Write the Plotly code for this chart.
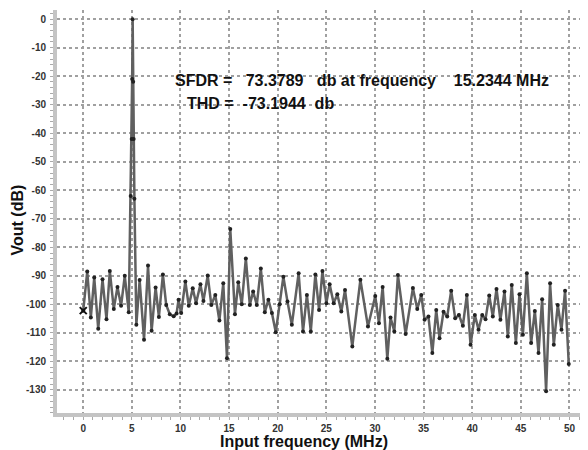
import plotly.graph_objects as go

freq_mhz = [0.0, 0.41, 0.78, 1.13, 1.54, 1.98, 2.39, 2.73, 3.14, 3.52, 3.89, 4.27, 4.68,
            4.88, 4.98, 5.03, 5.08, 5.13, 5.18, 5.26, 5.46,
            5.8, 6.25, 6.66, 7.03, 7.44, 7.78, 8.19, 8.53, 8.9, 9.3, 9.6, 9.8, 10.07,
            10.5, 10.85, 11.26, 11.6, 12.05, 12.36, 12.8, 13.17, 13.58, 14.0, 14.4, 14.78,
            15.12, 15.6, 15.94, 16.3, 16.72, 17.13, 17.47, 17.85, 18.26, 18.67, 19.04,
            19.4, 19.8, 20.2, 20.58, 21.0, 21.45, 22.15, 22.6, 23.0, 23.4, 23.87, 24.25,
            24.6, 25.0, 25.34, 25.75, 26.13, 26.54, 26.92, 27.67, 28.5, 29.28, 30.03,
            30.41, 30.79, 31.27, 31.6, 31.99, 32.36, 33.15, 33.9, 34.35, 34.76, 35.1,
            35.5, 35.9, 36.3, 36.64, 37.05, 37.43, 37.84, 38.25, 38.63, 39.04, 39.45,
            39.83, 40.27, 40.65, 41.03, 41.37, 41.75, 42.12, 42.5, 42.9, 43.32, 43.66,
            44.07, 44.49, 44.86, 45.21, 45.62, 46.06, 46.44, 46.82, 47.19, 47.6, 48.01,
            48.39, 48.8, 49.18, 49.55, 49.93]
vout_db = [-102.2, -88.5, -104.6, -90.6, -108.6, -91.2, -105.2, -88.3, -101.6, -93.9, -100.5, -90.0, -102.8,
           -62.0, -42.0, -21.0, 0.0, -22.0, -42.0, -63.0, -107.2,
           -91.5, -112.4, -86.4, -109.3, -94.1, -104.4, -89.5, -100.2, -103.5, -104.2, -103.2, -98.4, -103.0,
           -92.0, -100.5, -94.4, -99.6, -93.0, -98.8, -89.9, -100.2, -96.7, -105.7, -92.6, -118.9,
           -73.6, -103.5, -92.3, -100.0, -83.9, -100.2, -95.5, -100.2, -87.4, -102.8, -98.4,
           -103.0, -109.8, -100.0, -90.3, -99.0, -107.2, -89.1, -109.5, -96.7, -109.5, -89.5, -102.0,
           -88.3, -99.6, -93.0, -99.6, -96.5, -102.5, -95.0, -114.8, -91.4, -107.8, -97.1,
           -106.6, -93.9, -119.1, -104.6, -109.5, -89.7, -110.4, -94.3, -101.6, -96.7, -105.4,
           -104.3, -117.1, -102.0, -111.9, -102.6, -104.3, -95.2, -104.9, -103.7, -107.5, -96.7,
           -114.2, -103.7, -108.9, -103.7, -105.2, -96.9, -104.3, -94.6, -105.4, -95.5, -111.3,
           -93.2, -113.6, -96.5, -110.7, -89.1, -113.6, -102.3, -117.1, -98.2, -130.5, -92.6,
           -114.2, -100.2, -108.9, -95.2, -120.9]

x_ticks = [0, 5, 10, 15, 20, 25, 30, 35, 40, 45, 50]
y_ticks = [0, -10, -20, -30, -40, -50, -60, -70, -80, -90, -100, -110, -120, -130]

NB = "\u00a0"
sfdr_text = "SFDR =" + NB * 3 + "73.3789" + NB * 3 + "db at frequency" + NB * 4 + "15.2344 MHz"
thd_text = "THD =" + NB * 2 + "-73.1944" + NB * 2 + "db"

FONT = "Arial, 'Liberation Sans', sans-serif"

fig = go.Figure()
fig.add_trace(go.Scatter(
    x=freq_mhz, y=vout_db, mode="lines+markers",
    line=dict(color="#606060", width=2.5),
    marker=dict(color="#222", size=4),
    showlegend=False, hoverinfo="x+y"))
fig.add_trace(go.Scatter(
    x=freq_mhz[:1], y=vout_db[:1], mode="markers",
    marker=dict(symbol="x-thin", size=7, line=dict(color="#111", width=2)),
    showlegend=False))

axis_common = dict(
    showgrid=True, gridcolor="#a0a0a0", griddash="dot", gridwidth=1.5,
    showline=True, linecolor="#c4c4c4", linewidth=4,
    zeroline=False, mirror=False,
    tickfont=dict(family=FONT, size=10, color="#333"),
    ticks="",
)

fig.update_xaxes(range=[-2.7, 51.6], tickvals=x_ticks, ticktext=[f"<b>{v}</b>" for v in x_ticks],
                 minor=dict(ticks="outside", ticklen=3, tickcolor="#aaa", dtick=1, showgrid=False),
                 ticklabelstandoff=3, **axis_common)
fig.update_yaxes(range=[-138.1, 3.2], tickvals=y_ticks, ticktext=[f"<b>{v}</b>" for v in y_ticks],
                 minor=dict(ticks="outside", ticklen=3, tickcolor="#aaa", dtick=2, showgrid=False),
                 ticklabelstandoff=5, **axis_common)

fig.add_annotation(x=0.2197, y=0.824, xref="paper", yref="paper", xanchor="left", yanchor="middle",
                   text=f"<b>{sfdr_text}</b>", showarrow=False,
                   font=dict(family=FONT, size=16, color="#111"))
fig.add_annotation(x=0.2424, y=0.767, xref="paper", yref="paper", xanchor="left", yanchor="middle",
                   text=f"<b>{thd_text}</b>", showarrow=False,
                   font=dict(family=FONT, size=16, color="#111"))
fig.add_annotation(x=0.468, y=-0.071, xref="paper", yref="paper", xanchor="center", yanchor="middle",
                   text="<b>Input frequency (MHz)</b>", showarrow=False,
                   font=dict(family=FONT, size=16, color="#111"))
fig.add_annotation(x=-0.074, y=0.48, xref="paper", yref="paper", xanchor="center", yanchor="middle",
                   text="<b>Vout (dB)</b>", textangle=-90, showarrow=False,
                   font=dict(family=FONT, size=16, color="#111"))

# page body has an 8px default margin, so the figure is sized to end at the window edge
fig.update_layout(
    width=580, height=442,
    margin=dict(l=49, r=3, t=2, b=37),
    paper_bgcolor="white", plot_bgcolor="white",
    font=dict(family=FONT),
)

fig.write_html("out.html")
